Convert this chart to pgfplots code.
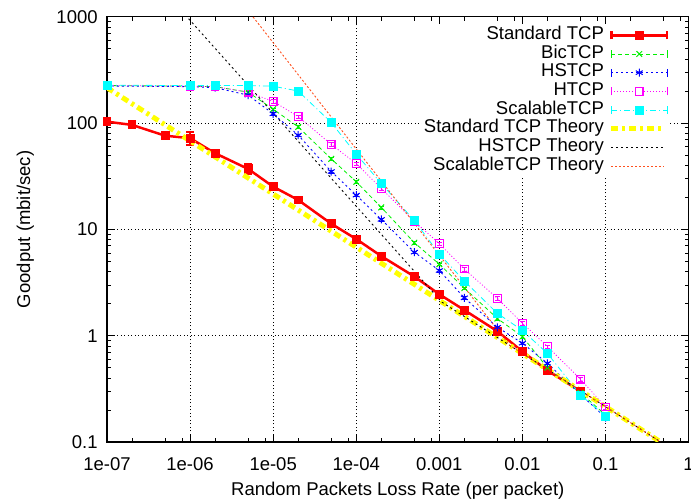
\documentclass[border=0pt]{standalone}
\usepackage{fontspec}
\setmainfont{Liberation Sans}
\usepackage{pgfplots}
\pgfplotsset{compat=1.18}
\definecolor{orgred}{RGB}{255,80,30}
\definecolor{gpgreen}{RGB}{0,240,0}
\definecolor{gpblue}{RGB}{0,0,255}
\definecolor{gpmag}{RGB}{255,0,255}
\definecolor{gpcyan}{RGB}{0,255,255}
\definecolor{gpyellow}{RGB}{255,255,0}
\definecolor{gpred}{RGB}{255,0,0}
\pgfplotsset{
  errleg/.style={legend image code/.code={%
    \draw[mark repeat=2,mark phase=2,##1] plot coordinates {(0cm,0cm)(0.98cm,0cm)(1.96cm,0cm)};
    \draw[##1,solid,mark=none] (0cm,-4pt)--(0cm,4pt) (1.96cm,-4pt)--(1.96cm,4pt);}},
  htcpleg/.style={legend image code/.code={%
    \draw[color={rgb,255:red,255;green,0;blue,255}, line width=1pt, dash pattern=on 1pt off 2pt] (0cm,0cm)--(1.96cm,0cm);
    \draw[color={rgb,255:red,255;green,0;blue,255}, solid, line width=1.3pt, fill=white] (0.98cm,0cm) +(-3.8pt,-3.8pt) rectangle +(3.8pt,3.8pt);
    \draw[color={rgb,255:red,255;green,0;blue,255}, solid, line width=1pt] (0cm,-4pt)--(0cm,4pt) (1.96cm,-4pt)--(1.96cm,4pt);}},
  lineleg/.style={legend image code/.code={%
    \draw[##1] (0cm,0cm)--(1.85cm,0cm);}},
}
\begin{document}
\fontsize{18.5}{22}\selectfont
\begin{tikzpicture}
\useasboundingbox (0,0) rectangle (691pt,503pt);
\begin{axis}[
  at={(107pt,61pt)}, anchor=south west,
  scale only axis, width=581.6pt, height=425.3pt,
  xmode=log, ymode=log,
  xmin=1e-7, xmax=1, ymin=0.1, ymax=1000,
  xtick={1e-7,1e-6,1e-5,1e-4,1e-3,1e-2,1e-1,1},
  xticklabels={1e-07,1e-06,1e-05,1e-04,0.001,0.01,0.1,1},
  ytick={0.1,1,10,100,1000},
  yticklabels={0.1,1,10,100,1000},
  minor xtick={2e-7,5e-7,8e-7,2e-6,5e-6,8e-6,2e-5,5e-5,8e-5,2e-4,5e-4,8e-4,2e-3,5e-3,8e-3,2e-2,5e-2,8e-2,2e-1,5e-1,8e-1},
  minor ytick={0.2,0.3,0.4,0.5,0.6,0.7,0.8,0.9,2,3,4,5,6,7,8,9,20,30,40,50,60,70,80,90,200,300,400,500,600,700,800,900},
  tick align=inside,
  major tick length=8pt, minor tick length=4pt,
  tick style={black, line width=0.8pt},
  axis line style={black, line width=1.2pt},
  grid=major,
  major grid style={black, line width=0.6pt, dash pattern=on 1pt off 2.5pt},
  xlabel={Random Packets Loss Rate (per packet)},
  ylabel={Goodput (mbit/sec)},
  xticklabel style={font=\fontsize{18.5}{22}\selectfont, yshift=-9pt},
  yticklabel style={font=\fontsize{18.5}{22}\selectfont, xshift=-3pt},
  label style={font=\fontsize{18.5}{22}\selectfont},
  xlabel style={yshift=1pt},
  ylabel style={yshift=10pt},
  legend style={at={(1,1)}, anchor=north east, xshift=-18pt, yshift=-7pt,
    draw=none, fill=white, inner sep=2pt, row sep=0pt, column sep=5pt,
    nodes={inner sep=0pt, text height=13.5pt, text depth=5.2pt},
    font=\fontsize{18.5}{22}\selectfont},
  legend cell align=right,
  legend plot pos=right,
]
% Standard TCP (measured)
\addplot[gpred, line width=2.5pt, mark=square*, mark size=3.2pt, mark options={solid},
  errleg,
  error bars/.cd, y dir=both, y explicit,
  error bar style={line width=1.5pt, gpred},
  error mark options={rotate=90, mark size=4pt, line width=1.5pt, gpred}]
  table[x=x, y=y, y error=e] {
x y e
1e-7 103 3
2e-7 96 4
5e-7 76 3
1e-6 72 10
2e-6 52 3
5e-6 37 4
1e-5 25.2 1
2e-5 18.9 0.8
5e-5 11.3 0.4
1e-4 8.1 0.3
2e-4 5.6 0.2
5e-4 3.6 0.1
1e-3 2.45 0.08
2e-3 1.74 0.05
5e-3 1.1 0.03
1e-2 0.71 0.02
2e-2 0.47 0.015
5e-2 0.3 0.01
};
\addlegendentry{Standard TCP}
% BicTCP
\addplot[gpgreen, line width=0.8pt, dash pattern=on 4pt off 3pt,
  mark=x, mark size=4pt, mark options={solid, line width=1pt},
  errleg,
  error bars/.cd, y dir=both, y fixed relative=0.03,
  error bar style={solid, line width=0.6pt},
  error mark options={rotate=90, mark size=2.5pt}]
  table {
1e-7 225
1e-6 222
2e-6 220
5e-6 195
1e-5 135
2e-5 92
5e-5 46
1e-4 28
2e-4 16.1
5e-4 7.5
1e-3 4.7
2e-3 2.8
5e-3 1.45
1e-2 0.98
2e-2 0.5
5e-2 0.29
1e-1 0.18
};
\addlegendentry{BicTCP}
% HSTCP
\addplot[gpblue, line width=0.9pt, dash pattern=on 2pt off 3pt,
  mark=asterisk, mark size=4pt, mark options={solid, line width=1pt},
  errleg,
  error bars/.cd, y dir=both, y fixed relative=0.03,
  error bar style={solid, line width=0.6pt},
  error mark options={rotate=90, mark size=2.5pt}]
  table {
1e-7 223
1e-6 220
2e-6 215
5e-6 183
1e-5 122
2e-5 77
5e-5 35
1e-4 21
2e-4 12.4
5e-4 6.1
1e-3 4.1
2e-3 2.27
5e-3 1.2
1e-2 0.85
2e-2 0.55
5e-2 0.28
1e-1 0.17
};
\addlegendentry{HSTCP}
% HTCP
\addplot[gpmag, line width=0.8pt, dash pattern=on 1pt off 2pt,
  mark=square, mark size=3.8pt, mark options={solid, line width=1.1pt, gpmag},
  htcpleg,
  error bars/.cd, y dir=both, y fixed relative=0.04,
  error bar style={solid, line width=0.6pt},
  error mark options={rotate=90, mark size=2.5pt}]
  table {
1e-7 225
1e-6 222
2e-6 220
5e-6 195
1e-5 160
2e-5 115
5e-5 63
1e-4 41.5
2e-4 24.3
5e-4 11.9
1e-3 7.35
2e-3 4.23
5e-3 2.24
1e-2 1.31
2e-2 0.79
5e-2 0.39
1e-1 0.214
};
\addlegendentry{HTCP}
% ScalableTCP
\addplot[gpcyan, line width=0.8pt, dash pattern=on 6pt off 3pt on 1pt off 3pt,
  mark=square*, mark size=4pt, mark options={solid},
  errleg,
  error bars/.cd, y dir=both, y fixed relative=0.03,
  error bar style={solid, line width=0.6pt},
  error mark options={rotate=90, mark size=2.5pt}]
  table {
1e-7 227
1e-6 225
2e-6 225
5e-6 225
1e-5 222
2e-5 200
5e-5 101
1e-4 51
2e-4 27
5e-4 12.1
1e-3 5.86
2e-3 3.27
5e-3 1.62
1e-2 1.12
2e-2 0.68
5e-2 0.277
1e-1 0.175
};
\addlegendentry{ScalableTCP}
% Standard TCP Theory
\addplot[gpyellow, line width=5pt, dash pattern=on 7pt off 4pt on 3pt off 4pt, lineleg]
  table {
1e-7 215
1e-6 68
1e-5 21.5
1e-4 6.8
1e-3 2.15
1e-2 0.68
1e-1 0.215
0.462 0.1
};
\addlegendentry{Standard TCP Theory}
% HSTCP Theory
\addplot[black, line width=0.9pt, dash pattern=on 2pt off 3pt, lineleg]
  table {
8e-7 1124
1e-6 924
1e-5 123.6
1e-4 16.5
1.07e-3 2.07
1e-2 0.68
1e-1 0.215
0.462 0.1
};
\addlegendentry{HSTCP Theory}
% ScalableTCP Theory
\addplot[orgred, line width=0.9pt, dash pattern=on 2pt off 2pt, lineleg]
  table {
5e-6 1140
1e-5 570
1e-4 57
1e-3 5.7
7.03e-3 0.811
1e-1 0.215
0.462 0.1
};
\addlegendentry{ScalableTCP Theory}
\end{axis}
\end{tikzpicture}
\end{document}
